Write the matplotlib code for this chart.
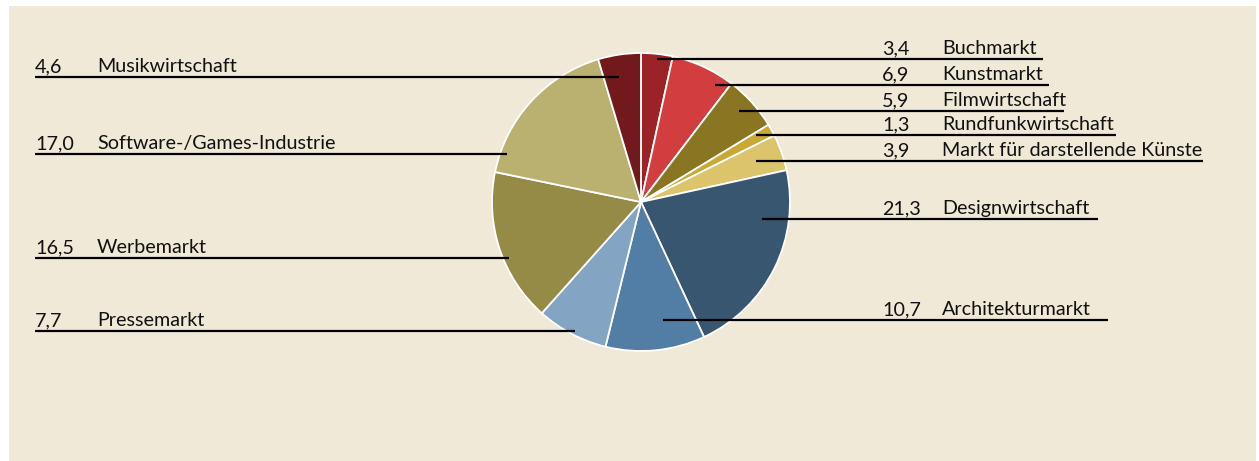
import matplotlib
matplotlib.use('Agg')
import matplotlib.pyplot as plt
from matplotlib.patches import Rectangle

# Anteile in Prozent, im Uhrzeigersinn ab 12 Uhr
teilmaerkte = ['Buchmarkt', 'Kunstmarkt', 'Filmwirtschaft', 'Rundfunkwirtschaft',
               'Markt für darstellende Künste', 'Designwirtschaft', 'Architekturmarkt',
               'Pressemarkt', 'Werbemarkt', 'Software-/Games-Industrie', 'Musikwirtschaft']
anteile = [3.4, 6.9, 5.9, 1.3, 3.9, 21.3, 10.7, 7.7, 16.5, 17.0, 4.6]
farben = ['#9b2227', '#d23d3f', '#8a7522', '#c9a833', '#dbc46b', '#38566f',
          '#527ea6', '#84a4c4', '#958b46', '#bab06f', '#721a1b']

# Beschriftungslayout in Pixeln: Seite, Linienhöhe, Linienanfang (im Segment), Linienende
seite = ['r', 'r', 'r', 'r', 'r', 'r', 'r', 'l', 'l', 'l', 'l']
linie_y = [59, 85, 111, 135, 161, 219, 320, 331, 258, 154, 77]
anker_x = [657, 715, 739, 756, 756, 762, 663, 575, 509, 507, 619]
ende_x = [1043, 1049, 1064, 1116, 1203, 1098, 1108, 35, 35, 35, 35]

W, H = 1259, 461
fig = plt.figure(figsize=(W / 100, H / 100), dpi=100)
fig.patch.set_facecolor('white')
ax = fig.add_axes([0, 0, 1, 1])

ax.add_patch(Rectangle((9, 6), 1247, 460, facecolor='#f1e9d7', edgecolor='none', zorder=0))

ax.pie(anteile, colors=farben, startangle=-90, counterclock=True,
       center=(641, 202), radius=149,
       wedgeprops=dict(edgecolor='white', linewidth=1.3))

schrift = dict(family=['Lato', 'DejaVu Sans'], fontsize=14.2, color='#111111', va='baseline')
for name, wert, s, y, xa, xe in zip(teilmaerkte, anteile, seite, linie_y, anker_x, ende_x):
    ax.plot([xa, xe], [y, y], color='black', linewidth=1.6, solid_capstyle='butt', zorder=5)
    zahl = f'{wert:.1f}'.replace('.', ',')
    if s == 'r':
        ax.text(882, y - 5, zahl, ha='left', **schrift)
        ax.text(942, y - 5, name, ha='left', **schrift)
    else:
        ax.text(35, y - 5, zahl, ha='left', **schrift)
        ax.text(97, y - 5, name, ha='left', **schrift)

ax.set_xlim(0, W)
ax.set_ylim(H, 0)
ax.set_aspect('auto')
ax.axis('off')

fig.savefig('out.png', dpi=100, facecolor='white')
